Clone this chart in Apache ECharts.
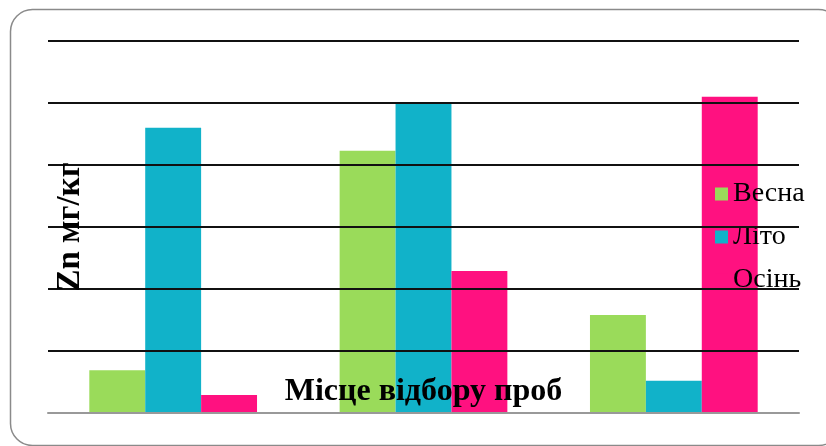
<!DOCTYPE html>
<html>
<head>
<meta charset="utf-8">
<script src="https://cdn.jsdelivr.net/npm/echarts@6/dist/echarts.min.js"></script>
<style>
html, body { margin: 0; padding: 0; background: #fff; }
#chart { width: 826px; height: 446px; }
</style>
</head>
<body>
<div id="chart"></div>
<script>
var places = ['1', '2', '3'];
var seriesNames = ['Весна', 'Літо', 'Осінь'];
var spring = [0.69, 4.23, 1.58];
var summer = [4.6, 5.0, 0.52];
var autumn = [0.29, 2.29, 5.1];
var colors = ['#9ADB5A', '#11B2C9', '#FF1180'];

var myChart = echarts.init(document.getElementById('chart'));
var serif = '"Liberation Serif", "Times New Roman", serif';

var option = {
	animation: false,
	color: colors,
	graphic: [{
		type: 'rect',
		left: 8,
		top: 7,
		shape: { width: 830, height: 436, r: 22 },
		style: { fill: 'none', stroke: '#8a8a8a', lineWidth: 1.5 },
		z: 0
	}],
	grid: {
		left: 48,
		right: 27,
		top: 41,
		bottom: 33
	},
	legend: {
		orient: 'vertical',
		left: 710,
		top: 175,
		itemWidth: 13,
		itemHeight: 13,
		itemGap: 15,
		itemStyle: { borderWidth: 0 },
		icon: 'rect',
		data: seriesNames,
		textStyle: { fontFamily: serif, fontSize: 28, color: '#000' }
	},
	xAxis: {
		type: 'category',
		data: places,
		name: 'Місце відбору проб',
		nameLocation: 'middle',
		nameGap: -37,
		nameTextStyle: { fontFamily: serif, fontSize: 32, fontWeight: 'bold', color: '#000' },
		axisLine: { lineStyle: { color: '#999', width: 2 } },
		axisTick: { show: false },
		axisLabel: { show: false },
		z: 10
	},
	yAxis: {
		type: 'value',
		min: 0,
		max: 6,
		interval: 1,
		name: 'Zn мг/кг',
		nameLocation: 'middle',
		nameRotate: 90,
		nameGap: -39,
		nameTextStyle: { fontFamily: serif, fontSize: 33, fontWeight: 'bold', color: '#000' },
		axisLine: { show: false },
		axisTick: { show: false },
		axisLabel: { show: false },
		splitLine: { lineStyle: { color: '#111', width: 2 } },
		z: 10
	},
	series: [{
		name: 'Весна',
		type: 'bar',
		data: spring,
		barGap: '0%',
		barCategoryGap: '33%'
	}, {
		name: 'Літо',
		type: 'bar',
		data: summer
	}, {
		name: 'Осінь',
		type: 'bar',
		data: autumn
	}]
};
myChart.setOption(option);
</script>
</body>
</html>
